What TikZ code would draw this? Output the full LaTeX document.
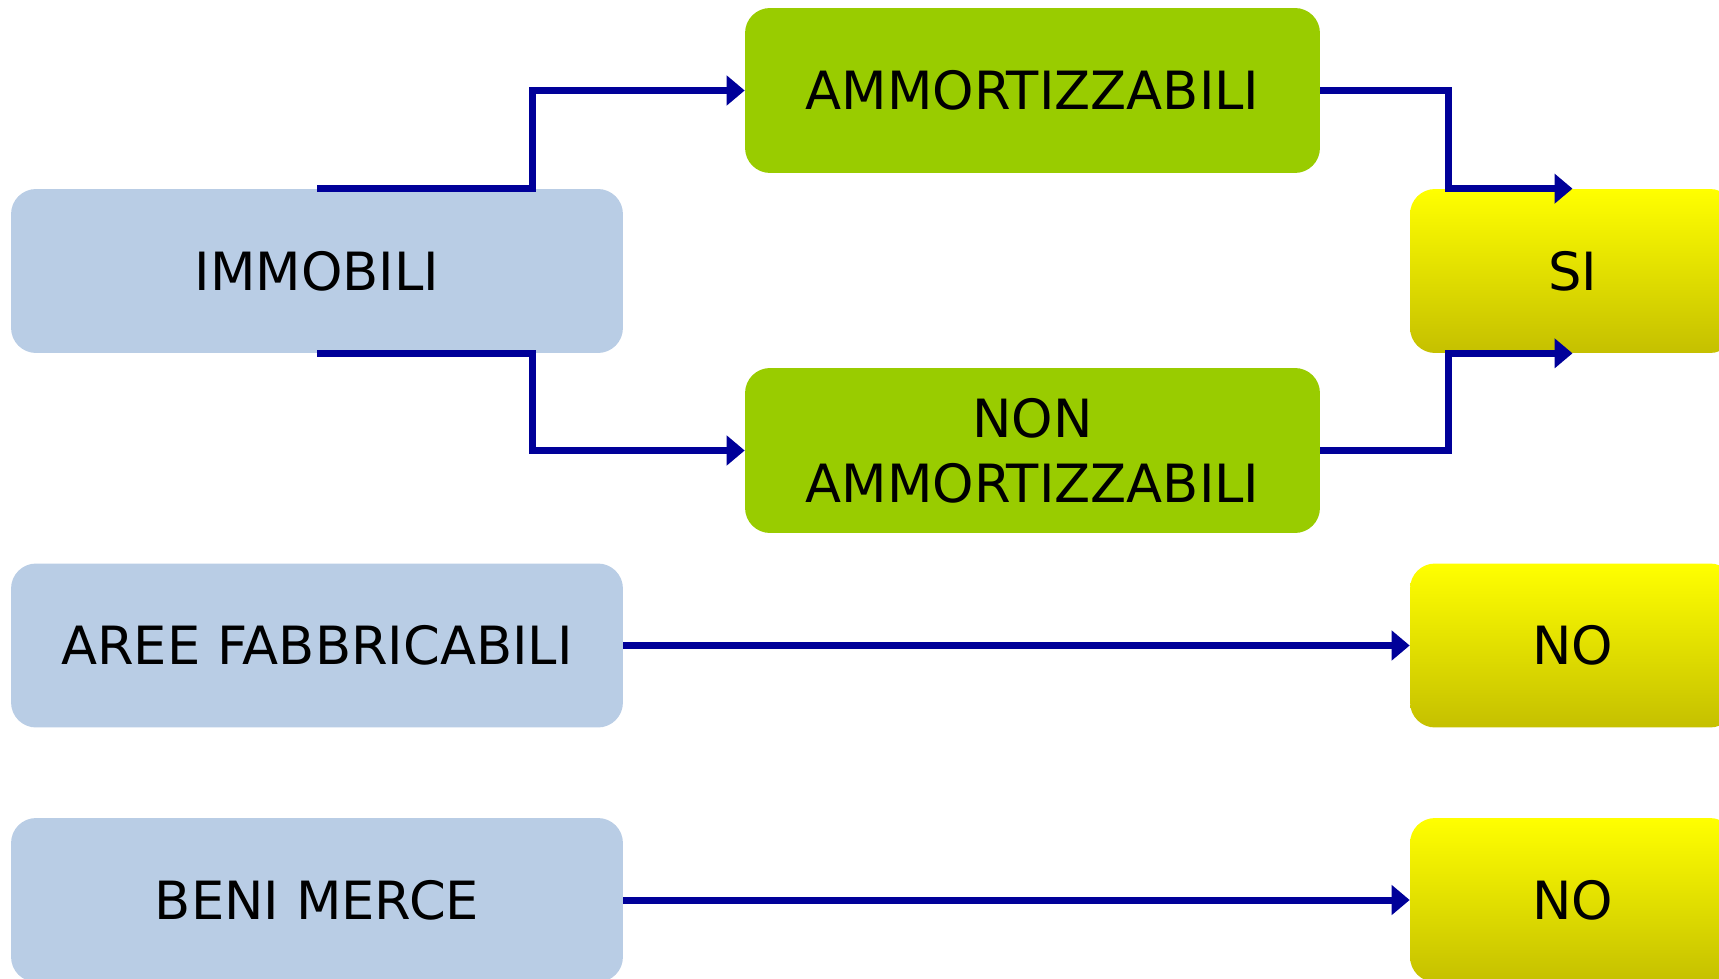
\documentclass[tikz,border=0pt]{standalone}
\usepackage{fontspec}
\setmainfont{DejaVu Sans}
\usetikzlibrary{arrows.meta}

\definecolor{boxblue}{RGB}{185,205,229}
\definecolor{boxgreen}{RGB}{153,204,0}
\definecolor{linkblue}{RGB}{0,0,153}
\definecolor{olivebottom}{RGB}{197,192,0}

\begin{document}
\begin{tikzpicture}[x=0.02cm, y=-0.02cm,
  plainbox/.style={rounded corners=0.5cm, inner sep=0pt, align=center, font=\fontsize{30}{37}\selectfont},
  assetbox/.style={plainbox, fill=boxblue, minimum width=12.24cm, minimum height=3.28cm},
  kindbox/.style={plainbox, fill=boxgreen, minimum width=11.5cm, minimum height=3.3cm},
  answerbox/.style={plainbox, top color=yellow, bottom color=olivebottom, minimum width=6.5cm, minimum height=3.28cm},
  link/.style={draw=linkblue, line width=0.14cm, -{Triangle[length=0.36cm, width=0.58cm, fill=linkblue]}}
]
\useasboundingbox (0,0) rectangle (1719,979);

% Left column
\node[assetbox] (immobili) at (317,271) {IMMOBILI};
\node[assetbox] (aree) at (317,645.5) {AREE FABBRICABILI};
\node[assetbox] (beni) at (317,900) {BENI MERCE};

% Middle column
\node[kindbox] (ammort) at (1032.5,90.5) {AMMORTIZZABILI};
\node[kindbox] (nonammort) at (1032.5,450.5) {NON\\AMMORTIZZABILI};

% Right column
\node[answerbox] (si) at (1572.5,271) {SI};
\node[answerbox] (noaree) at (1572.5,645.5) {NO};
\node[answerbox] (nobeni) at (1572.5,900) {NO};

% Elbow points
\coordinate (split) at (532,0);
\coordinate (join) at (1448,0);

% Draw links
\draw[link] (immobili.north) -| (split |- ammort.west) -- (ammort.west);
\draw[link] (immobili.south) -| (split |- nonammort.west) -- (nonammort.west);
\draw[link] (ammort.east) -| (join |- si.north) -- (si.north);
\draw[link] (nonammort.east) -| (join |- si.south) -- (si.south);
\draw[link] (aree) -- (noaree);
\draw[link] (beni) -- (nobeni);

\end{tikzpicture}
\end{document}
